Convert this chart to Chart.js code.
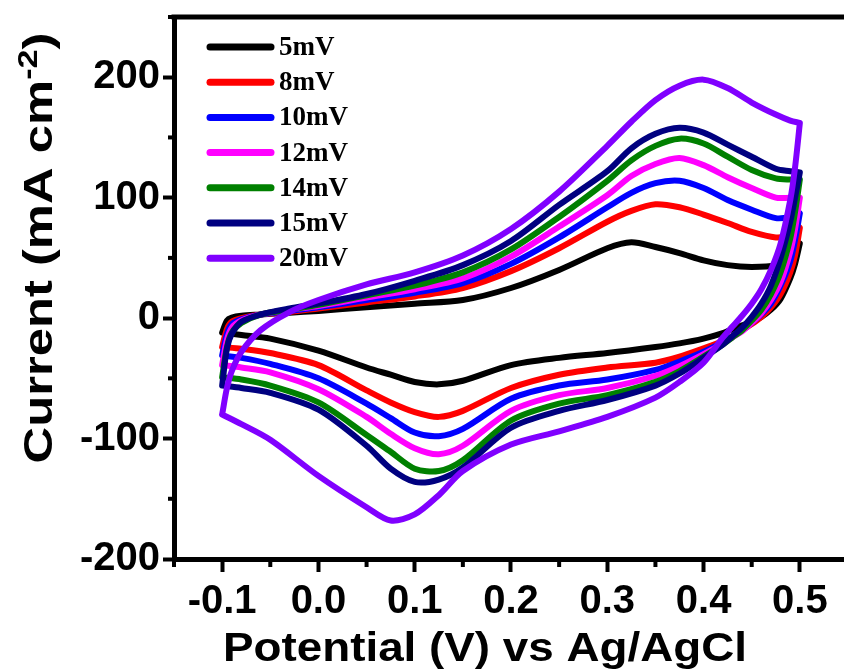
<!DOCTYPE html>
<html>
<head>
<meta charset="utf-8">
<script src="https://cdn.jsdelivr.net/npm/chart.js@4.4.1/dist/chart.umd.min.js"></script>
<style>
  html, body { margin: 0; padding: 0; background: #fff; overflow: hidden; }
  #wrap { width: 844px; height: 672px; overflow: hidden; }
  canvas { display: block; }
</style>
</head>
<body>
<div id="wrap"><canvas id="cv" width="880" height="672"></canvas></div>
<script>
// scan rates, legend order
const seriesNames = ['5mV', '8mV', '10mV', '12mV', '14mV', '15mV', '20mV'];
const seriesColors = ['#000000', '#ff0000', '#0000ff', '#ff00ff', '#008000', '#000080', '#8000ff'];

// anodic sweep (-0.1 -> 0.5 V)
const forwardPotential = [-0.1, -0.095, -0.09, -0.08, -0.06, -0.03, 0, 0.05, 0.1, 0.15, 0.2, 0.25, 0.3, 0.325, 0.35, 0.375, 0.4, 0.425, 0.45, 0.475, 0.49, 0.5];
const anodic5  = [-12, -2, 0.5, 2, 3, 4.5, 6, 9, 12, 15, 25, 40, 58, 63, 59, 54, 48, 44, 42.5, 44, 51, 62];
const anodic8  = [-24, -9, -3, 0, 3, 5, 8, 13, 18, 25, 39, 58, 80, 89, 94.5, 92, 86, 79, 71.5, 67, 69, 75];
const anodic10 = [-31, -13, -5, -1, 3, 6, 9, 15, 21, 29, 45, 67, 92, 104, 112, 114, 108, 98, 90, 83, 84, 87];
const anodic12 = [-39, -18, -8, -2, 3, 7, 10, 17, 24, 33, 51, 76, 102, 118, 128, 133, 127, 117, 108, 100, 100, 100];
const anodic14 = [-49, -24, -12, -4, 3, 7, 11, 19, 27, 38, 57, 84, 114, 131, 143, 149, 145, 134, 123, 116, 115, 115];
const anodic15 = [-56, -25, -13, -3, 3, 8, 12, 20, 31, 44, 64, 94, 122, 141, 153, 158, 154, 144, 134, 124, 122, 121];
const anodic20 = [-80, -58, -44, -28, -10, 5, 15, 28, 38, 52, 74, 105, 143, 163, 181, 193, 198, 191, 179, 169, 164, 162];

// cathodic sweep (0.5 -> -0.1 V)
const reversePotential = [0.5, 0.495, 0.49, 0.48, 0.47, 0.46, 0.45, 0.44, 0.43, 0.42, 0.4, 0.375, 0.35, 0.3, 0.25, 0.2, 0.15, 0.125, 0.1, 0.075, 0.05, 0, -0.05, -0.08, -0.1];
const cathodic5  = [62, 45, 33, 16, 7, 1, -3, -6, -9, -12.5, -17, -21, -24, -29, -33, -39, -52, -55, -53, -47, -41, -27, -17, -14, -12];
const cathodic8  = [75, 52, 38, 20, 9, 1, -5, -10, -15, -19, -25, -32, -37, -41, -47, -58, -77, -82, -78, -70, -60, -39, -29, -25.5, -24];
const cathodic10 = [87, 65, 47, 27, 12, 3, -4, -10, -15, -20, -28, -36, -43, -51, -56, -67, -92, -98, -95, -83, -71, -50, -38, -33, -31];
const cathodic12 = [100, 74, 55, 30, 15, 4, -4, -11, -16, -21, -30, -40, -48, -58, -64, -77, -106, -113, -108, -96, -82, -59, -45, -41, -39];
const cathodic14 = [115, 88, 66, 38, 20, 7, -2, -10, -16, -22, -32, -44, -53, -64, -71, -85, -118, -127, -125, -111, -97, -70, -56, -51, -49];
const cathodic15 = [121, 100, 80, 50, 27, 12, 1, -8, -15, -22, -33, -46, -56, -68, -77, -91, -124, -134, -136, -125, -106, -76, -62, -58, -56];
const cathodic20 = [162, 125, 98, 62, 40, 24, 12, 2, -7, -16, -37, -53, -66, -82, -94, -105, -127, -147, -163, -168, -157, -131, -101, -88, -80];

// axes
const xTicks = [-0.1, 0.0, 0.1, 0.2, 0.3, 0.4, 0.5];
const xMinorTicks = [-0.15, -0.05, 0.05, 0.15, 0.25, 0.35, 0.45, 0.55];
const yTicks = [-200, -100, 0, 100, 200];
const yMinorTicks = [-150, -50, 50, 150, 250];

const anodic = [anodic5, anodic8, anodic10, anodic12, anodic14, anodic15, anodic20];
const cathodic = [cathodic5, cathodic8, cathodic10, cathodic12, cathodic14, cathodic15, cathodic20];

function loopPoints(i) {
	const up = forwardPotential.map((x, j) => ({ x: x, y: anodic[i][j] }));
	const down = reversePotential.map((x, j) => ({ x: x, y: cathodic[i][j] }));
	return up.concat(down);
}

const tickFont = { family: "'Liberation Sans', Arial, sans-serif", size: 40, weight: 'bold' };

// top frame line, minor ticks, axis titles, legend
const decorations = {
	id: 'decorations',
	afterDraw(chart) {
		const ctx = chart.ctx;
		const area = chart.chartArea;
		const xs = chart.scales.x;
		const ys = chart.scales.y;
		ctx.save();
		ctx.strokeStyle = '#000';
		ctx.lineWidth = 5;
		ctx.beginPath();
		ctx.moveTo(area.left - 2.5, area.top);
		ctx.lineTo(chart.width, area.top);
		ctx.stroke();

		ctx.lineWidth = 4;
		xMinorTicks.forEach(v => {
			const px = xs.getPixelForValue(v);
			ctx.beginPath();
			ctx.moveTo(px, area.bottom);
			ctx.lineTo(px, area.bottom + 8);
			ctx.stroke();
		});
		yMinorTicks.forEach(v => {
			const py = ys.getPixelForValue(v);
			ctx.beginPath();
			ctx.moveTo(area.left, py);
			ctx.lineTo(area.left - 6, py);
			ctx.stroke();
		});

		// x title
		ctx.fillStyle = '#000';
		ctx.font = "bold 40px 'Liberation Sans', Arial, sans-serif";
		ctx.textBaseline = 'alphabetic';
		ctx.textAlign = 'left';
		const xTitle = 'Potential (V) vs Ag/AgCl';
		const xw = ctx.measureText(xTitle).width;
		const xTarget = 524;
		ctx.save();
		ctx.translate(485 - xTarget / 2, 661);
		ctx.scale(xTarget / xw, 1);
		ctx.fillText(xTitle, 0, 0);
		ctx.restore();

		// y title with superscript
		const part1 = 'Current (mA cm';
		const sup = '-2';
		const part2 = ')';
		ctx.font = "bold 40px 'Liberation Sans', Arial, sans-serif";
		const w1 = ctx.measureText(part1).width;
		const w3 = ctx.measureText(part2).width;
		ctx.font = "bold 27px 'Liberation Sans', Arial, sans-serif";
		const w2 = ctx.measureText(sup).width;
		const yTarget = 431;
		const k = yTarget / (w1 + w2 + w3);
		ctx.save();
		ctx.translate(52, 248);
		ctx.rotate(-Math.PI / 2);
		ctx.scale(k, 1);
		ctx.translate(-(w1 + w2 + w3) / 2, 0);
		ctx.font = "bold 40px 'Liberation Sans', Arial, sans-serif";
		ctx.fillText(part1, 0, 0);
		ctx.font = "bold 27px 'Liberation Sans', Arial, sans-serif";
		ctx.fillText(sup, w1, -15);
		ctx.font = "bold 40px 'Liberation Sans', Arial, sans-serif";
		ctx.fillText(part2, w1 + w2, 0);
		ctx.restore();

		// legend
		ctx.font = "bold 27px 'Liberation Serif', 'Times New Roman', serif";
		ctx.textBaseline = 'middle';
		ctx.lineCap = 'round';
		ctx.lineWidth = 7;
		seriesNames.forEach((name, i) => {
			const y = 47 + i * 35.2;
			ctx.strokeStyle = seriesColors[i];
			ctx.beginPath();
			ctx.moveTo(210, y);
			ctx.lineTo(271, y);
			ctx.stroke();
			ctx.fillStyle = '#000';
			ctx.fillText(name, 279, y + 1);
		});
		ctx.restore();
	}
};

function noEdgePadding(scale) {
	scale.paddingTop = 0;
	scale.paddingBottom = 0;
	scale.paddingLeft = 0;
	scale.paddingRight = 0;
}

new Chart(document.getElementById('cv'), {
	type: 'scatter',
	data: {
		datasets: seriesNames.map((name, i) => ({
			label: name,
			data: loopPoints(i),
			showLine: true,
			borderColor: seriesColors[i],
			backgroundColor: seriesColors[i],
			borderWidth: 6,
			pointRadius: 0,
			tension: 0.3,
			borderCapStyle: 'round',
			borderJoinStyle: 'round',
			order: seriesNames.length - i,
		})),
	},
	options: {
		responsive: false,
		animation: false,
		devicePixelRatio: 1,
		layout: { padding: { top: 17, right: 32, left: 0, bottom: 0 } },
		plugins: {
			legend: { display: false },
			tooltip: { enabled: false },
		},
		scales: {
			x: {
				type: 'linear',
				min: -0.15,
				max: 0.55,
				afterBuildTicks: (scale) => { scale.ticks = xTicks.map(v => ({ value: v })); },
				afterFit: (scale) => { scale.height = 113; noEdgePadding(scale); },
				border: { display: true, width: 5, color: '#000' },
				grid: { drawOnChartArea: false, drawTicks: true, tickLength: 13, tickWidth: 4, tickColor: '#000' },
				ticks: {
					color: '#000',
					font: tickFont,
					padding: 6,
					maxRotation: 0,
					autoSkip: false,
					callback: (v) => Number(v).toFixed(1),
				},
			},
			y: {
				type: 'linear',
				min: -200,
				max: 250,
				afterBuildTicks: (scale) => { scale.ticks = yTicks.map(v => ({ value: v })); },
				afterFit: (scale) => { scale.width = 174; noEdgePadding(scale); },
				border: { display: true, width: 5, color: '#000' },
				grid: { drawOnChartArea: false, drawTicks: true, tickLength: 11, tickWidth: 4, tickColor: '#000' },
				ticks: {
					color: '#000',
					font: tickFont,
					padding: 3,
					autoSkip: false,
					callback: (v) => String(v),
				},
			},
		},
	},
	plugins: [decorations],
});
</script>
</body>
</html>
